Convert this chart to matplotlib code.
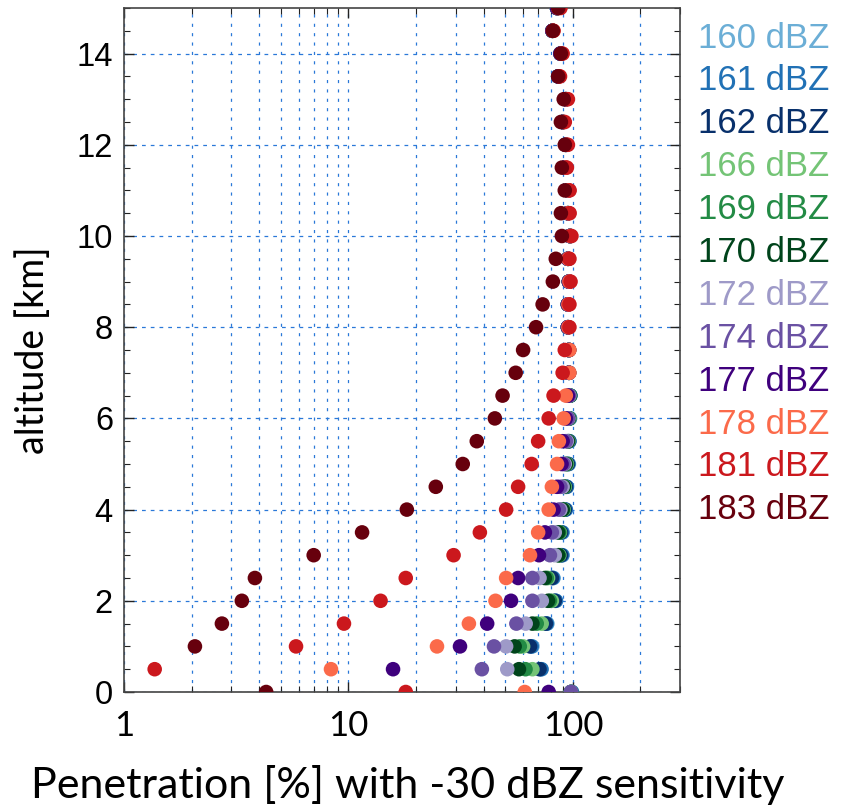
import numpy as np
import matplotlib
matplotlib.use('Agg')
import matplotlib.pyplot as plt
from matplotlib.ticker import LogLocator, NullFormatter, FixedLocator, FixedFormatter, MultipleLocator

# altitude levels [km]
altitude = np.arange(0, 15.01, 0.5)

# penetration [%] for each reflectivity series
p160 = [99, 72, 66, 77, 84, 82, 90, 90, 93, 94, 96, 96.5, 97, 97.5, 96,
        96, 95, 95, 96, 95, 97, 95, 95, 92, 93, 90, 93, 86, 88, 81, 85]
p161 = [99, 72.5, 65.5, 76.5, 84, 81.5, 89.5, 89.5, 93, 94, 95.5, 96.5, 97, 97.5, 96,
        96, 95, 95, 96, 95, 97, 95, 95, 92, 93, 90, 93, 86, 88, 81, 85]
p162 = [98, 71, 64.4, 75.8, 83, 80.6, 88.5, 88.5, 92, 93, 95, 96, 96.5, 97, 96,
        96, 95, 95, 96, 95, 97, 95, 95, 92, 93, 90, 93, 86, 88, 81, 85]
p166 = [98, 66, 60, 72.6, 80.6, 77.5, 87, 87.5, 91, 92, 94, 95.5, 96.5, 97, 96,
        96, 95, 95, 96, 95, 97, 95, 95, 92, 93, 90, 93, 86, 88, 81, 85]
p169 = [98, 61.5, 58, 69, 79, 76.5, 86.5, 87, 90.5, 91.5, 93.5, 95, 96, 97, 96,
        96, 95, 95, 96, 95, 97, 95, 95, 92, 93, 90, 93, 86, 88, 81, 85]
p170 = [98, 57.5, 55, 66, 77.5, 75, 86, 86, 90, 91, 93, 95, 96, 97, 96,
        96, 95, 95, 96, 95, 97, 95, 95, 92, 93, 90, 93, 86, 88, 81, 85]
p172 = [98, 51, 50.4, 61.6, 72.7, 71, 83, 83, 88, 90, 92, 94, 95.5, 96.5, 96,
        96, 95, 95, 96, 95, 97, 95, 95, 92, 93, 90, 93, 86, 88, 81, 85]
p174 = [98, 39.3, 44.5, 56, 66, 66, 79, 80.6, 86.6, 88, 91, 93, 95, 96, 96,
        96, 95, 95, 96, 95, 97, 95, 95, 92, 93, 90, 93, 86, 88, 81, 85]
p177 = [78, 15.8, 31.4, 41.5, 53, 57, 70.6, 75, 82, 85, 89, 90, 93, 95, 96,
        96, 95, 95, 96, 95, 97, 95, 95, 92, 93, 90, 93, 86, 88, 81, 85]
p178 = [61, 8.36, 24.8, 34.4, 45.2, 50.4, 64.4, 70, 78, 80.6, 85, 86.6, 91, 93, 96.5,
        96.5, 95.5, 95.5, 96.5, 95.5, 97.5, 95.5, 95.5, 93, 94, 91, 94, 87, 89, 81.5, 86]
p181 = [18, 1.37, 5.84, 9.55, 13.9, 18, 29.4, 38.5, 50.4, 57, 65.5, 70, 78, 82, 90,
        92, 96.5, 96.5, 97.6, 96.5, 98.5, 96.7, 96.7, 94, 95, 92, 95, 87.6, 90, 82, 88]
p183 = [4.3, 0.7, 2.07, 2.73, 3.35, 3.83, 7.0, 11.5, 18.2, 24.5, 32.3, 37.3, 44.9, 48.6, 55.6,
        60, 68.5, 73.3, 81.4, 83.9, 89.3, 88.4, 92, 89.3, 92, 88.4, 91, 86, 88.4, 81.4, 86]

labels = ['160 dBZ', '161 dBZ', '162 dBZ', '166 dBZ', '169 dBZ', '170 dBZ',
          '172 dBZ', '174 dBZ', '177 dBZ', '178 dBZ', '181 dBZ', '183 dBZ']
colors = ['#6baed6', '#2171b5', '#08306b', '#74c476', '#238b45', '#00441b',
          '#9e9ac8', '#6a51a3', '#3f007d', '#fb6a4a', '#cb181d', '#67000d']
series = [p160, p161, p162, p166, p169, p170, p172, p174, p177, p178, p181, p183]

fig = plt.figure(figsize=(8.5, 8.08), dpi=100)
ax = fig.add_axes([124/850, 1-692/808, (680-124)/850, (692-8)/808])

for vals, c in zip(series, colors):
    ax.scatter(vals, altitude, s=110, color=c, edgecolors='none', zorder=3)

ax.set_xscale('log')
ax.set_xlim(1, 300)
ax.set_ylim(0, 15)

grid_col = '#2a78d8'
ax.xaxis.set_major_locator(FixedLocator([1, 10, 100]))
ax.xaxis.set_major_formatter(FixedFormatter(['1', '10', '100']))
ax.xaxis.set_minor_locator(LogLocator(base=10, subs=np.arange(2, 10), numticks=20))
ax.xaxis.set_minor_formatter(NullFormatter())
ax.yaxis.set_major_locator(MultipleLocator(2))
ax.yaxis.set_minor_locator(MultipleLocator(0.5))

ax.grid(True, which='both', axis='x', color=grid_col, linestyle=(0, (2.5, 5)), linewidth=0.9)
ax.grid(True, which='major', axis='y', color=grid_col, linestyle=(0, (3, 4)), linewidth=0.9)
ax.set_axisbelow(True)

ax.tick_params(which='both', direction='in', top=True, right=True, color='#222222')
ax.tick_params(which='major', length=7, width=1)
ax.tick_params(which='minor', length=4, width=0.8)
ax.tick_params(axis='x', which='major', pad=13)
ax.tick_params(axis='y', which='major', pad=8)

for lab in ax.get_xticklabels():
    lab.set_fontfamily('Lato')
    lab.set_fontsize(25)
for lab in ax.get_yticklabels():
    lab.set_fontfamily('Liberation Sans')
    lab.set_fontsize(23.5)

for sp in ax.spines.values():
    sp.set_color('#444444')
    sp.set_linewidth(1.2)

fig.text(33/850, 1-350/808, 'altitude [km]', rotation=90, ha='center', va='center',
         family='Lato', fontsize=27)
fig.text(408/850, 1-785/808, 'Penetration [%] with -30 dBZ sensitivity',
         ha='center', va='center', family='Lato', fontsize=31)

# legend as coloured text on the right
for i, (lab, c) in enumerate(zip(labels, colors)):
    fig.text(698/850, 1-(38 + 42.9*i)/808, lab, color=c, ha='left', va='center',
             family='Liberation Sans', fontsize=25)

fig.savefig('out.png', dpi=100)
